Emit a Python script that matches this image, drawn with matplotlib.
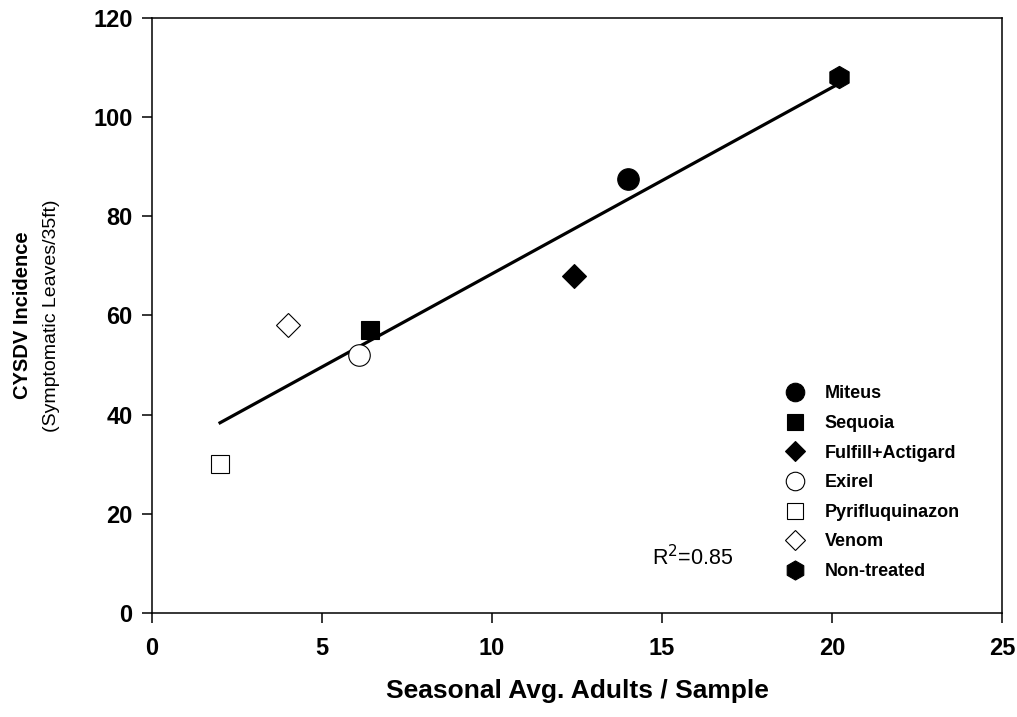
import numpy as np
import matplotlib
matplotlib.use('Agg')
import matplotlib.pyplot as plt

plt.rcParams['font.family'] = ['Liberation Sans', 'DejaVu Sans']

# data
treatments = ['Miteus', 'Sequoia', 'Fulfill+Actigard', 'Exirel',
              'Pyrifluquinazon', 'Venom', 'Non-treated']
adults = [14.0, 6.4, 12.4, 6.1, 2.0, 4.0, 20.2]
incidence = [87.5, 57.0, 68.0, 52.0, 30.0, 58.0, 108.0]
markers = ['o', 's', 'D', 'o', 's', 'D', 'h']
fills = ['black', 'black', 'black', 'white', 'white', 'white', 'black']
msizes = [15.5, 13.5, 12.0, 15.5, 13.5, 12.0, 16]
r2_text = 'R$^2$=0.85'

fig = plt.figure(figsize=(10.17, 7.17), dpi=100)
ax = fig.add_axes([0.1495, 0.145, 0.8358, 0.830])

# regression line over the data range
slope, icpt = np.polyfit(adults, incidence, 1)
xl = np.array([min(adults), max(adults)])
ax.plot(xl, slope * xl + icpt, '-', color='black', lw=2.3, zorder=2)

for i in range(len(treatments)):
    ax.plot(adults[i], incidence[i], linestyle='none', marker=markers[i],
            ms=msizes[i], mfc=fills[i], mec='black', mew=0.8,
            label=treatments[i], zorder=3)

ax.set_xlim(0, 25)
ax.set_ylim(0, 120)
ax.set_xticks([0, 5, 10, 15, 20, 25])
ax.set_yticks([0, 20, 40, 60, 80, 100, 120])
ax.tick_params(direction='out', length=7, width=1.1, labelsize=17)
ax.tick_params(axis='x', pad=10)
ax.tick_params(axis='y', pad=7)
for lab in ax.get_xticklabels() + ax.get_yticklabels():
    lab.set_fontweight('bold')
for sp in ax.spines.values():
    sp.set_linewidth(1.1)

fig.text(0.5674, 0.036, 'Seasonal Avg. Adults / Sample', fontsize=19,
         fontweight='bold', ha='center', va='center')
fig.text(0.022, 0.56, 'CYSDV Incidence', rotation=90, fontsize=14.5,
         fontweight='bold', ha='center', va='center')
fig.text(0.051, 0.56, '(Symptomatic Leaves/35ft)', rotation=90, fontsize=14,
         ha='center', va='center')

ax.text(14.7, 11.2, r2_text, fontsize=15.5, va='center', ha='left')

ax.legend(loc='center left', bbox_to_anchor=(0.716, 0.219), frameon=False,
          prop={'weight': 'bold', 'size': 13},
          handletextpad=0.65, labelspacing=0.7, numpoints=1, markerscale=0.86)

plt.savefig('out.png', dpi=100)
